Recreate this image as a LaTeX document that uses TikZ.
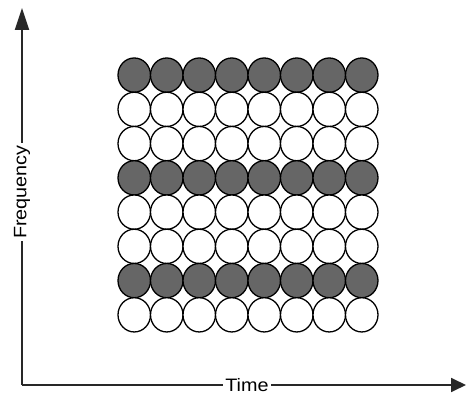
\documentclass[tikz,border=0pt]{standalone}
\usepackage{fontspec}
\newfontfamily\lblfont[FakeStretch=1.1]{Liberation Sans}
\usetikzlibrary{arrows.meta}
\definecolor{cellgrey}{RGB}{102,102,102}
\definecolor{axisgrey}{RGB}{40,40,40}
\tikzset{
  cell/.style={ellipse, draw=black, line width=1.3pt, minimum width=32.5pt, minimum height=34.25pt, inner sep=0pt, fill=white},
  darkcell/.style={cell, fill=cellgrey},
  axisline/.style={draw=axisgrey, line width=1.8pt},
  axislabel/.style={fill=white, inner sep=2pt, font=\lblfont\fontsize{18}{18}\selectfont, text=black},
}
\usepackage{tikz}
\usetikzlibrary{shapes.geometric}
\begin{document}
\begin{tikzpicture}[x=1pt,y=1pt]
\useasboundingbox (0,0) rectangle (466,394);
% axes
\coordinate (origin) at (22,9);
\coordinate (ytop) at (22,386);
\coordinate (xright) at (466,9);
\draw[axisline, -{Triangle[length=22pt,width=14pt]}] (origin) -- (ytop);
\draw[axisline, -{Triangle[length=15pt,width=14pt]}] (origin) -- (xright);
\node[axislabel, rotate=90] (freq) at (22,202) {Frequency};
\node[axislabel] (time) at (247,9) {Time};
% grid of cells
\foreach \j in {0,...,7}{
  \foreach \i in {0,...,7}{
    \pgfmathtruncatemacro{\dk}{(\j==0 || \j==3 || \j==6) ? 1 : 0}
    \ifnum\dk=1
      \node[darkcell] (c-\i-\j) at ({134.25+32.5*\i},{394-75.1-34.25*\j}) {};
    \else
      \node[cell] (c-\i-\j) at ({134.25+32.5*\i},{394-75.1-34.25*\j}) {};
    \fi
  }
}
\end{tikzpicture}
\end{document}
